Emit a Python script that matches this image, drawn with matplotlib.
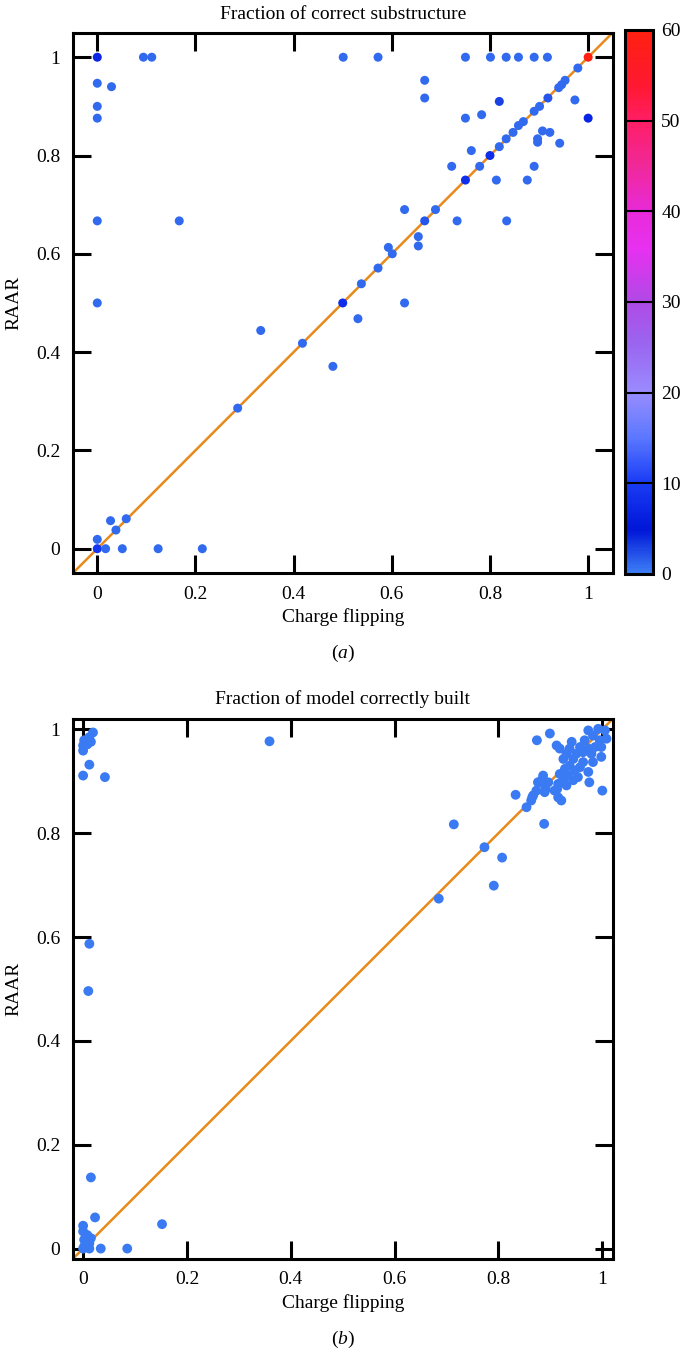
import numpy as np
import matplotlib
matplotlib.use('Agg')
from matplotlib import pyplot as plt
from matplotlib.colors import LinearSegmentedColormap

plt.rcParams['font.family'] = ['Liberation Serif', 'DejaVu Serif']
plt.rcParams['mathtext.fontset'] = 'custom'
plt.rcParams['mathtext.it'] = 'Liberation Serif:italic'
plt.rcParams['mathtext.rm'] = 'Liberation Serif'

# (a) fraction of correct substructure
cf_a = [0, 0.094, 0.111, 0.501, 0.572, 0.750, 0.801, 0.833, 0.858, 0.890, 0.917, 1.0,
        0, 0.029, 0, 0, 0, 0.167, 0, 0.5, 0.979, 0.667, 0.667, 0.940, 0.946, 0.953,
        0.819, 0.918, 0.973, 1.0, 0.750, 0.783, 0.890, 0.901, 0.868, 0.858, 0.847,
        0.833, 0.819, 0.8, 0.907, 0.922, 0.897, 0.897, 0.942, 0.762, 0.779, 0.722,
        0.75, 0.813, 0.876, 0.890, 0.689, 0.667, 0.626, 0.733, 0.834, 0.654, 0.654,
        0.593, 0.601, 0.572, 0.538, 0.626, 0.531, 0.333, 0.418, 0.480, 0.286,
        0.027, 0.059, 0.038, 0, 0, 0.017, 0.051, 0.124, 0.214]
raar_a = [1, 1, 1, 1, 1, 1, 1, 1, 1, 1, 1, 1,
          0.947, 0.940, 0.900, 0.876, 0.667, 0.667, 0.5, 0.5, 0.978, 0.953, 0.917, 0.938, 0.944, 0.953,
          0.910, 0.917, 0.913, 0.876, 0.876, 0.883, 0.890, 0.900, 0.869, 0.861, 0.847,
          0.834, 0.818, 0.8, 0.850, 0.847, 0.834, 0.827, 0.825, 0.810, 0.778, 0.778,
          0.75, 0.75, 0.75, 0.778, 0.690, 0.667, 0.690, 0.667, 0.667, 0.635, 0.616,
          0.613, 0.600, 0.571, 0.539, 0.5, 0.468, 0.444, 0.418, 0.371, 0.286,
          0.057, 0.061, 0.038, 0.019, 0, 0, 0, 0, 0]
count_a = [7, 1, 1, 1, 1, 1, 1, 1, 1, 1, 1, 60,
           1, 1, 1, 1, 1, 1, 1, 8, 1, 1, 1, 1, 1, 1,
           3, 2, 1, 7, 1, 1, 1, 1, 1, 1, 1,
           1, 1, 8, 1, 1, 1, 1, 1, 1, 1, 1,
           8, 1, 1, 1, 1, 2, 1, 1, 1, 1, 1,
           1, 1, 1, 1, 1, 1, 1, 1, 1, 1,
           1, 1, 1, 1, 9, 1, 1, 1, 1]

# (b) fraction of model correctly built
cf_b = [0.019, 0.012, 0.002, 0.015, 0.0, 0.008, 0.0, 0.012, 0.0, 0.042,
        0.359, 0.012, 0.010, 0.015,
        0.023, 0.0, 0.0, 0.008, 0.015, 0.002, 0.012, 0.002, 0.012, 0.034, 0.085, 0.152, 0.0,
        0.685, 0.714, 0.773, 0.807, 0.791, 0.833, 0.854, 0.865, 0.888,
        0.874, 0.899, 0.973, 0.992, 1.005, 1.008, 0.982, 0.966, 0.995, 0.941,
        0.912, 0.918, 0.937, 0.957, 0.973, 0.986, 0.998, 0.963, 0.979, 0.950,
        0.931, 0.998, 0.925, 0.944, 0.963, 0.982, 0.937, 0.957, 0.928, 0.947,
        0.973, 0.918, 0.934, 0.953, 0.925, 0.944, 0.975, 0.915, 0.931, 1.0,
        0.908, 0.886, 0.876, 0.889, 0.873, 0.896, 0.867, 0.863, 0.915, 0.921,
        0.883, 0.891, 0.889, 0.913]
raar_b = [0.994, 0.985, 0.979, 0.976, 0.969, 0.971, 0.959, 0.932, 0.911, 0.908,
          0.977, 0.587, 0.496, 0.137,
          0.060, 0.044, 0.033, 0.026, 0.020, 0.017, 0.010, 0.004, 0.0, 0.0, 0.0, 0.047, 0.0,
          0.674, 0.817, 0.773, 0.753, 0.699, 0.874, 0.850, 0.869, 0.818,
          0.979, 0.992, 0.998, 1.001, 0.998, 0.982, 0.988, 0.979, 0.979, 0.976,
          0.969, 0.963, 0.963, 0.966, 0.963, 0.966, 0.966, 0.956, 0.953, 0.953,
          0.953, 0.947, 0.943, 0.943, 0.937, 0.937, 0.930, 0.927, 0.924, 0.921,
          0.918, 0.914, 0.911, 0.908, 0.902, 0.902, 0.898, 0.895, 0.892, 0.882,
          0.882, 0.911, 0.898, 0.892, 0.882, 0.898, 0.873, 0.863, 0.869, 0.863,
          0.902, 0.885, 0.879, 0.885]

ticks = [0, 0.2, 0.4, 0.6, 0.8, 1]
tick_labels = ['0', '0.2', '0.4', '0.6', '0.8', '1']
cbar_ticks = [0, 10, 20, 30, 40, 50, 60]

cmap = LinearSegmentedColormap.from_list('counts', [
    (0.0, '#3d7ef5'), (0.08, '#0016d8'), (0.167, '#1a3cf5'),
    (0.25, '#5a78ff'), (0.333, '#9a8cff'), (0.42, '#9a66f0'),
    (0.5, '#b04ae6'), (0.6, '#e830f0'), (0.667, '#e82ad8'),
    (0.75, '#f0289a'), (0.833, '#ff1e66'), (0.9, '#ff1830'), (1.0, '#ff2010')])

blue = '#3a7af2'
orange = '#e8891a'
fs = 14


def style_axes(ax, lo, hi):
    ax.set_xlim(lo, hi)
    ax.set_ylim(lo, hi)
    ax.plot([lo, hi], [lo, hi], color=orange, lw=1.8, zorder=1)
    ax.set_xticks(ticks)
    ax.set_xticklabels(tick_labels)
    ax.set_yticks(ticks)
    ax.set_yticklabels(tick_labels)
    ax.tick_params(direction='in', length=13, width=2.2, top=True, right=True,
                   labelsize=fs, pad=9)
    for s in ax.spines.values():
        s.set_linewidth(2.2)
    ax.set_xlabel('Charge flipping', fontsize=fs, labelpad=4)
    ax.set_ylabel('RAAR', fontsize=fs, labelpad=10)


fig = plt.figure(figsize=(6.92, 13.54), dpi=100)

ax1 = fig.add_axes([0.1051, 0.5766, 0.7803, 0.3993])
sc = ax1.scatter(cf_a, raar_a, c=count_a, cmap=cmap, vmin=0, vmax=60, s=42,
                 edgecolors='none', zorder=2)
style_axes(ax1, -0.05, 1.05)
ax1.set_title('Fraction of correct substructure', fontsize=fs, pad=10)

cax = fig.add_axes([0.9032, 0.5761, 0.0405, 0.4018])
cb = fig.colorbar(sc, cax=cax, ticks=cbar_ticks)
cb.ax.tick_params(length=0, labelsize=fs, pad=6)
cb.outline.set_linewidth(2.2)
for v in cbar_ticks[1:-1]:
    cb.ax.axhline(v, color='black', lw=1.5)

ax2 = fig.add_axes([0.1051, 0.0702, 0.7803, 0.3988])
ax2.scatter(cf_b, raar_b, color=blue, s=50, edgecolors='none', zorder=2)
style_axes(ax2, -0.02, 1.02)
ax2.set_title('Fraction of model correctly built', fontsize=fs, pad=11)

fig.text(0.4953, 0.5766 - 80 / 1354, r'($\mathit{a}$)', ha='center', va='center', fontsize=fs)
fig.text(0.4953, 0.0702 - 80 / 1354, r'($\mathit{b}$)', ha='center', va='center', fontsize=fs)

plt.savefig('out.png', dpi=100)
